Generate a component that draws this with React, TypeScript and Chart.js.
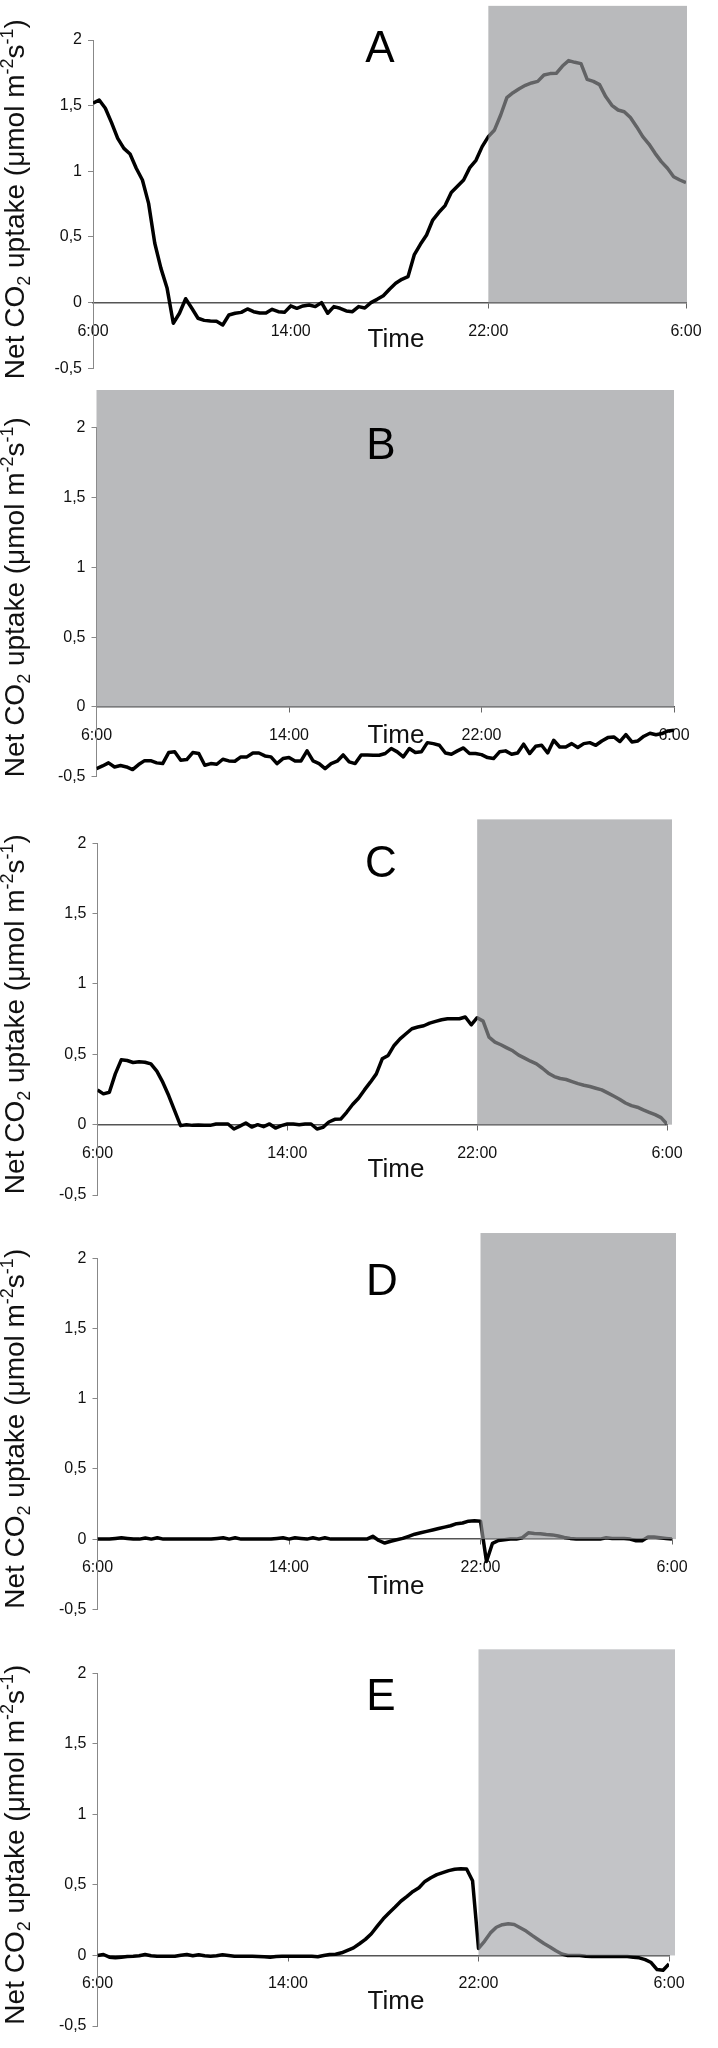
import React, { useEffect, useRef } from 'react';
import { Chart, registerables } from 'chart.js';

Chart.register(...registerables);

// ---------- data ----------
const STEP_HOURS = 0.25; // samples every 15 min starting at 6:00
const X_TICK_LABELS = ['6:00', '14:00', '22:00', '6:00'];
const Y_TICK_VALUES = [-0.5, 0, 0.5, 1, 1.5, 2];
const Y_TICK_LABELS = ['-0,5', '0', '0,5', '1', '1,5', '2'];
const PANEL_LETTERS = ['A', 'B', 'C', 'D', 'E'];
const NIGHT_START = [16, 0, 16, 16, 16]; // hours after 6:00
const NIGHT_END = 24;
const X_TITLE = 'Time';
const Y_TITLE_PARTS = [
  { t: 'Net CO', k: 0 },
  { t: '2', k: -1 },
  { t: ' uptake (μmol m', k: 0 },
  { t: '-2', k: 1 },
  { t: 's', k: 0 },
  { t: '-1', k: 1 },
  { t: ')', k: 0 },
];

const SERIES_A = [1.518, 1.543, 1.48, 1.371, 1.251, 1.175, 1.132, 1.023, 0.934, 0.756,
  0.452, 0.261, 0.109, -0.157, -0.081, 0.03, -0.043, -0.119, -0.135, -0.14,
  -0.142, -0.17, -0.094, -0.081, -0.074, -0.048, -0.069, -0.079, -0.079, -0.051,
  -0.069, -0.074, -0.025, -0.043, -0.025, -0.018, -0.03, 0.0, -0.081, -0.03,
  -0.043, -0.063, -0.069, -0.03, -0.041, 0.0, 0.025, 0.053, 0.102, 0.147,
  0.178, 0.198, 0.363, 0.444, 0.515, 0.629, 0.688, 0.739, 0.838, 0.886,
  0.934, 1.028, 1.084, 1.188, 1.264, 1.315, 1.429, 1.561, 1.599, 1.629,
  1.655, 1.673, 1.685, 1.734, 1.744, 1.746, 1.802, 1.843, 1.83, 1.82,
  1.7, 1.685, 1.66, 1.569, 1.503, 1.467, 1.454, 1.409, 1.34, 1.264,
  1.208, 1.137, 1.074, 1.023, 0.959, 0.934, 0.914];

const SERIES_B = [-0.442, -0.423, -0.401, -0.43, -0.42, -0.43, -0.449, -0.413, -0.385, -0.385,
  -0.401, -0.406, -0.327, -0.322, -0.382, -0.377, -0.327, -0.334, -0.418, -0.406,
  -0.411, -0.375, -0.387, -0.389, -0.358, -0.358, -0.33, -0.33, -0.351, -0.358,
  -0.406, -0.37, -0.363, -0.387, -0.387, -0.315, -0.387, -0.406, -0.442, -0.406,
  -0.389, -0.344, -0.394, -0.406, -0.344, -0.344, -0.346, -0.346, -0.334, -0.298,
  -0.322, -0.358, -0.298, -0.327, -0.322, -0.256, -0.263, -0.275, -0.33, -0.339,
  -0.315, -0.294, -0.334, -0.334, -0.342, -0.363, -0.37, -0.322, -0.315, -0.339,
  -0.33, -0.267, -0.334, -0.282, -0.275, -0.33, -0.239, -0.287, -0.287, -0.263,
  -0.291, -0.263, -0.256, -0.275, -0.244, -0.22, -0.215, -0.248, -0.198, -0.251,
  -0.244, -0.21, -0.189, -0.2, -0.191, -0.172, -0.167];

const SERIES_C = [0.247, 0.219, 0.23, 0.361, 0.461, 0.456, 0.442, 0.447, 0.444, 0.432,
  0.38, 0.302, 0.207, 0.1, -0.007, 0.0, -0.005, -0.002, -0.005, -0.005,
  0.005, 0.005, 0.005, -0.031, -0.01, 0.012, -0.017, 0.0, -0.014, 0.005,
  -0.024, -0.007, 0.005, 0.005, 0.0, 0.005, 0.005, -0.031, -0.019, 0.019,
  0.038, 0.04, 0.088, 0.143, 0.188, 0.247, 0.302, 0.361, 0.468, 0.492,
  0.563, 0.61, 0.646, 0.682, 0.694, 0.703, 0.722, 0.734, 0.746, 0.753,
  0.753, 0.753, 0.765, 0.71, 0.76, 0.736, 0.622, 0.587, 0.568, 0.546,
  0.525, 0.494, 0.473, 0.451, 0.432, 0.401, 0.366, 0.342, 0.328, 0.321,
  0.306, 0.292, 0.28, 0.271, 0.259, 0.247, 0.226, 0.204, 0.181, 0.154,
  0.135, 0.124, 0.105, 0.088, 0.071, 0.05, 0.005];

const SERIES_D = [0, 0, 0, 0.005, 0.01, 0.005, 0, 0, 0.008, 0,
  0.01, 0, 0, 0, 0, 0, 0, 0, 0, 0,
  0.005, 0.01, 0, 0.01, 0, 0, 0, 0, 0, 0,
  0.005, 0.01, 0, 0.01, 0.005, 0, 0.01, 0, 0.01, 0,
  0, 0, 0, 0, 0, 0, 0.02, -0.01, -0.028, -0.015,
  -0.005, 0.005, 0.02, 0.035, 0.045, 0.055, 0.065, 0.075, 0.085, 0.095,
  0.11, 0.115, 0.128, 0.13, 0.128, -0.16, -0.03, -0.01, -0.005, 0,
  0, 0.01, 0.045, 0.04, 0.038, 0.033, 0.03, 0.022, 0.012, 0.005,
  0, 0, 0, 0, 0, 0.01, 0.005, 0.005, 0.005, 0,
  -0.012, -0.012, 0.015, 0.015, 0.01, 0.005, 0];

const SERIES_E = [0, 0.007, -0.012, -0.017, -0.012, -0.007, -0.005, -0.002, 0.007, -0.002,
  -0.005, -0.005, -0.005, -0.005, 0.002, 0.007, -0.002, 0.005, -0.002, -0.005,
  -0.002, 0.005, 0, -0.005, -0.005, -0.005, -0.005, -0.007, -0.009, -0.012,
  -0.007, -0.005, -0.005, -0.005, -0.005, -0.005, -0.005, -0.009, 0, 0.007,
  0.009, 0.019, 0.036, 0.054, 0.083, 0.114, 0.154, 0.208, 0.26, 0.303,
  0.343, 0.386, 0.419, 0.454, 0.48, 0.525, 0.551, 0.573, 0.587, 0.601,
  0.611, 0.615, 0.613, 0.53, 0.05, 0.1, 0.16, 0.2, 0.218, 0.225,
  0.22, 0.197, 0.173, 0.142, 0.113, 0.085, 0.06, 0.033, 0.01, 0,
  0, 0, -0.005, -0.007, -0.007, -0.007, -0.007, -0.007, -0.007, -0.007,
  -0.012, -0.017, -0.03, -0.05, -0.1, -0.105, -0.06];

const ALL_SERIES = [SERIES_A, SERIES_B, SERIES_C, SERIES_D, SERIES_E];

// ---------- layout (pixels, per panel) ----------
const WIDTH = 718;
const Y_AXIS_W = 50;
const FONT = '"Liberation Sans", Arial, Helvetica, sans-serif';
const LAYOUT = [
  { top: 0, height: 390, left: 93, right: 686, plotTop: 40, plotBottom: 368.3, boxTop: 2.26, boxExtra: 1, boxColor: 'rgba(148,150,153,0.66)', letterX: 380, letterY: 50, timeY: 340 },
  { top: 390, height: 410, left: 96.5, right: 674, plotTop: 37.7, plotBottom: 386.7, boxTop: 2.3, boxExtra: 0, boxColor: 'rgba(148,150,153,0.66)', letterX: 381, letterY: 57, timeY: 346 },
  { top: 800, height: 415, left: 97.5, right: 667, plotTop: 43.3, plotBottom: 395, boxTop: 2.17, boxExtra: 5, boxColor: 'rgba(148,150,153,0.66)', letterX: 381, letterY: 65, timeY: 370 },
  { top: 1215, height: 415, left: 97.5, right: 672, plotTop: 43.3, plotBottom: 394.3, boxTop: 2.18, boxExtra: 4, boxColor: 'rgba(148,150,153,0.66)', letterX: 382, letterY: 68, timeY: 372 },
  { top: 1630, height: 418, left: 97.5, right: 669, plotTop: 43.3, plotBottom: 396, boxTop: 2.17, boxExtra: 6, boxColor: 'rgba(160,162,166,0.63)', letterX: 381, letterY: 68, timeY: 372 },
];

const decorPlugin = {
  id: 'decor',
  afterDatasetsDraw(chart: any, _args: any, o: any) {
    const { ctx } = chart;
    const xs = chart.scales.x;
    const ys = chart.scales.y;
    const x0 = xs.getPixelForValue(o.nightStart);
    const x1 = xs.getPixelForValue(NIGHT_END) + o.boxExtra;
    const yT = ys.getPixelForValue(o.boxTop);
    const yB = ys.getPixelForValue(0);
    ctx.save();
    ctx.fillStyle = o.boxColor;
    ctx.fillRect(x0, yT, x1 - x0, yB - yT);
    ctx.restore();
  },
  afterDraw(chart: any, _args: any, o: any) {
    const { ctx, chartArea } = chart;
    ctx.save();
    ctx.fillStyle = '#000';
    ctx.textAlign = 'center';
    ctx.textBaseline = 'middle';
    ctx.font = `44px ${FONT}`;
    ctx.fillText(o.letter, o.letterX, o.letterY);
    ctx.font = `26px ${FONT}`;
    ctx.fillStyle = '#111';
    ctx.fillText(X_TITLE, 396, o.timeY);

    // rotated y-axis title with sub/superscripts
    const big = `28px ${FONT}`;
    const small = `18px ${FONT}`;
    let total = 0;
    const widths = Y_TITLE_PARTS.map((p) => {
      ctx.font = p.k === 0 ? big : small;
      const w = ctx.measureText(p.t).width;
      total += w;
      return w;
    });
    const cy = (chartArea.top + chartArea.bottom) / 2 - 5;
    ctx.translate(24, cy);
    ctx.rotate(-Math.PI / 2);
    ctx.textAlign = 'left';
    ctx.textBaseline = 'alphabetic';
    let cx = -total / 2;
    Y_TITLE_PARTS.forEach((p, i) => {
      ctx.font = p.k === 0 ? big : small;
      const dy = p.k === -1 ? 6 : p.k === 1 ? -11 : 0;
      ctx.fillText(p.t, cx, dy);
      cx += widths[i];
    });
    ctx.restore();
  },
};

function Panel({ idx }: { idx: number }) {
  const ref = useRef<HTMLCanvasElement | null>(null);
  useEffect(() => {
    const L = LAYOUT[idx];
    const series = ALL_SERIES[idx];
    const chart = new Chart(ref.current as HTMLCanvasElement, {
      type: 'line',
      data: {
        datasets: [
          {
            data: series.map((v, i) => ({ x: i * STEP_HOURS, y: v })),
            borderColor: '#000',
            borderWidth: 3.5,
            pointRadius: 0,
            tension: 0,
            fill: false,
            borderJoinStyle: 'round',
          } as any,
        ],
      },
      options: {
        animation: false,
        responsive: false,
        maintainAspectRatio: false,
        layout: {
          padding: {
            left: L.left - Y_AXIS_W,
            right: WIDTH - L.right,
            top: L.plotTop,
            bottom: L.height - L.plotBottom,
          },
        },
        plugins: {
          legend: { display: false },
          tooltip: { enabled: false },
          decor: {
            letter: PANEL_LETTERS[idx],
            letterX: L.letterX,
            letterY: L.letterY,
            timeY: L.timeY,
            nightStart: NIGHT_START[idx],
            boxTop: L.boxTop,
            boxExtra: L.boxExtra,
            boxColor: L.boxColor,
          },
        } as any,
        scales: {
          x: {
            type: 'linear',
            axis: 'x',
            position: { y: 0 } as any,
            min: 0,
            max: 24,
            ticks: {
              stepSize: 8,
              autoSkip: false,
              maxRotation: 0,
              padding: 14,
              color: '#111',
              font: { family: FONT, size: 16 },
              callback: (v: any) => X_TICK_LABELS[Math.round(Number(v) / 8)],
            },
            grid: { display: true, drawOnChartArea: false, drawTicks: true, tickLength: 5, color: '#666' },
            border: { display: true, color: '#555', width: 1.5 },
          } as any,
          y: {
            type: 'linear',
            min: -0.5,
            max: 2,
            afterFit: (s: any) => {
              s.width = Y_AXIS_W;
            },
            ticks: {
              stepSize: 0.5,
              padding: 6,
              color: '#111',
              font: { family: FONT, size: 16 },
              callback: (v: any) => {
                const k = Y_TICK_VALUES.findIndex((t) => Math.abs(t - Number(v)) < 1e-6);
                return k >= 0 ? Y_TICK_LABELS[k] : '';
              },
            },
            grid: { display: true, drawOnChartArea: false, drawTicks: true, tickLength: 5, color: '#888' },
            border: { display: true, color: '#888', width: 1 },
          } as any,
        },
      },
      plugins: [decorPlugin as any],
    });
    return () => chart.destroy();
  }, [idx]);
  const L = LAYOUT[idx];
  return (
    <canvas
      ref={ref}
      width={WIDTH}
      height={L.height}
      style={{ position: 'absolute', left: 0, top: L.top, width: WIDTH, height: L.height }}
    />
  );
}

export default function App() {
  return (
    <div style={{ position: 'relative', width: WIDTH, height: 2048, background: '#fff' }}>
      <style>{'html,body{margin:0;padding:0;background:#fff;}'}</style>
      {LAYOUT.map((_, i) => (
        <Panel key={i} idx={i} />
      ))}
    </div>
  );
}
